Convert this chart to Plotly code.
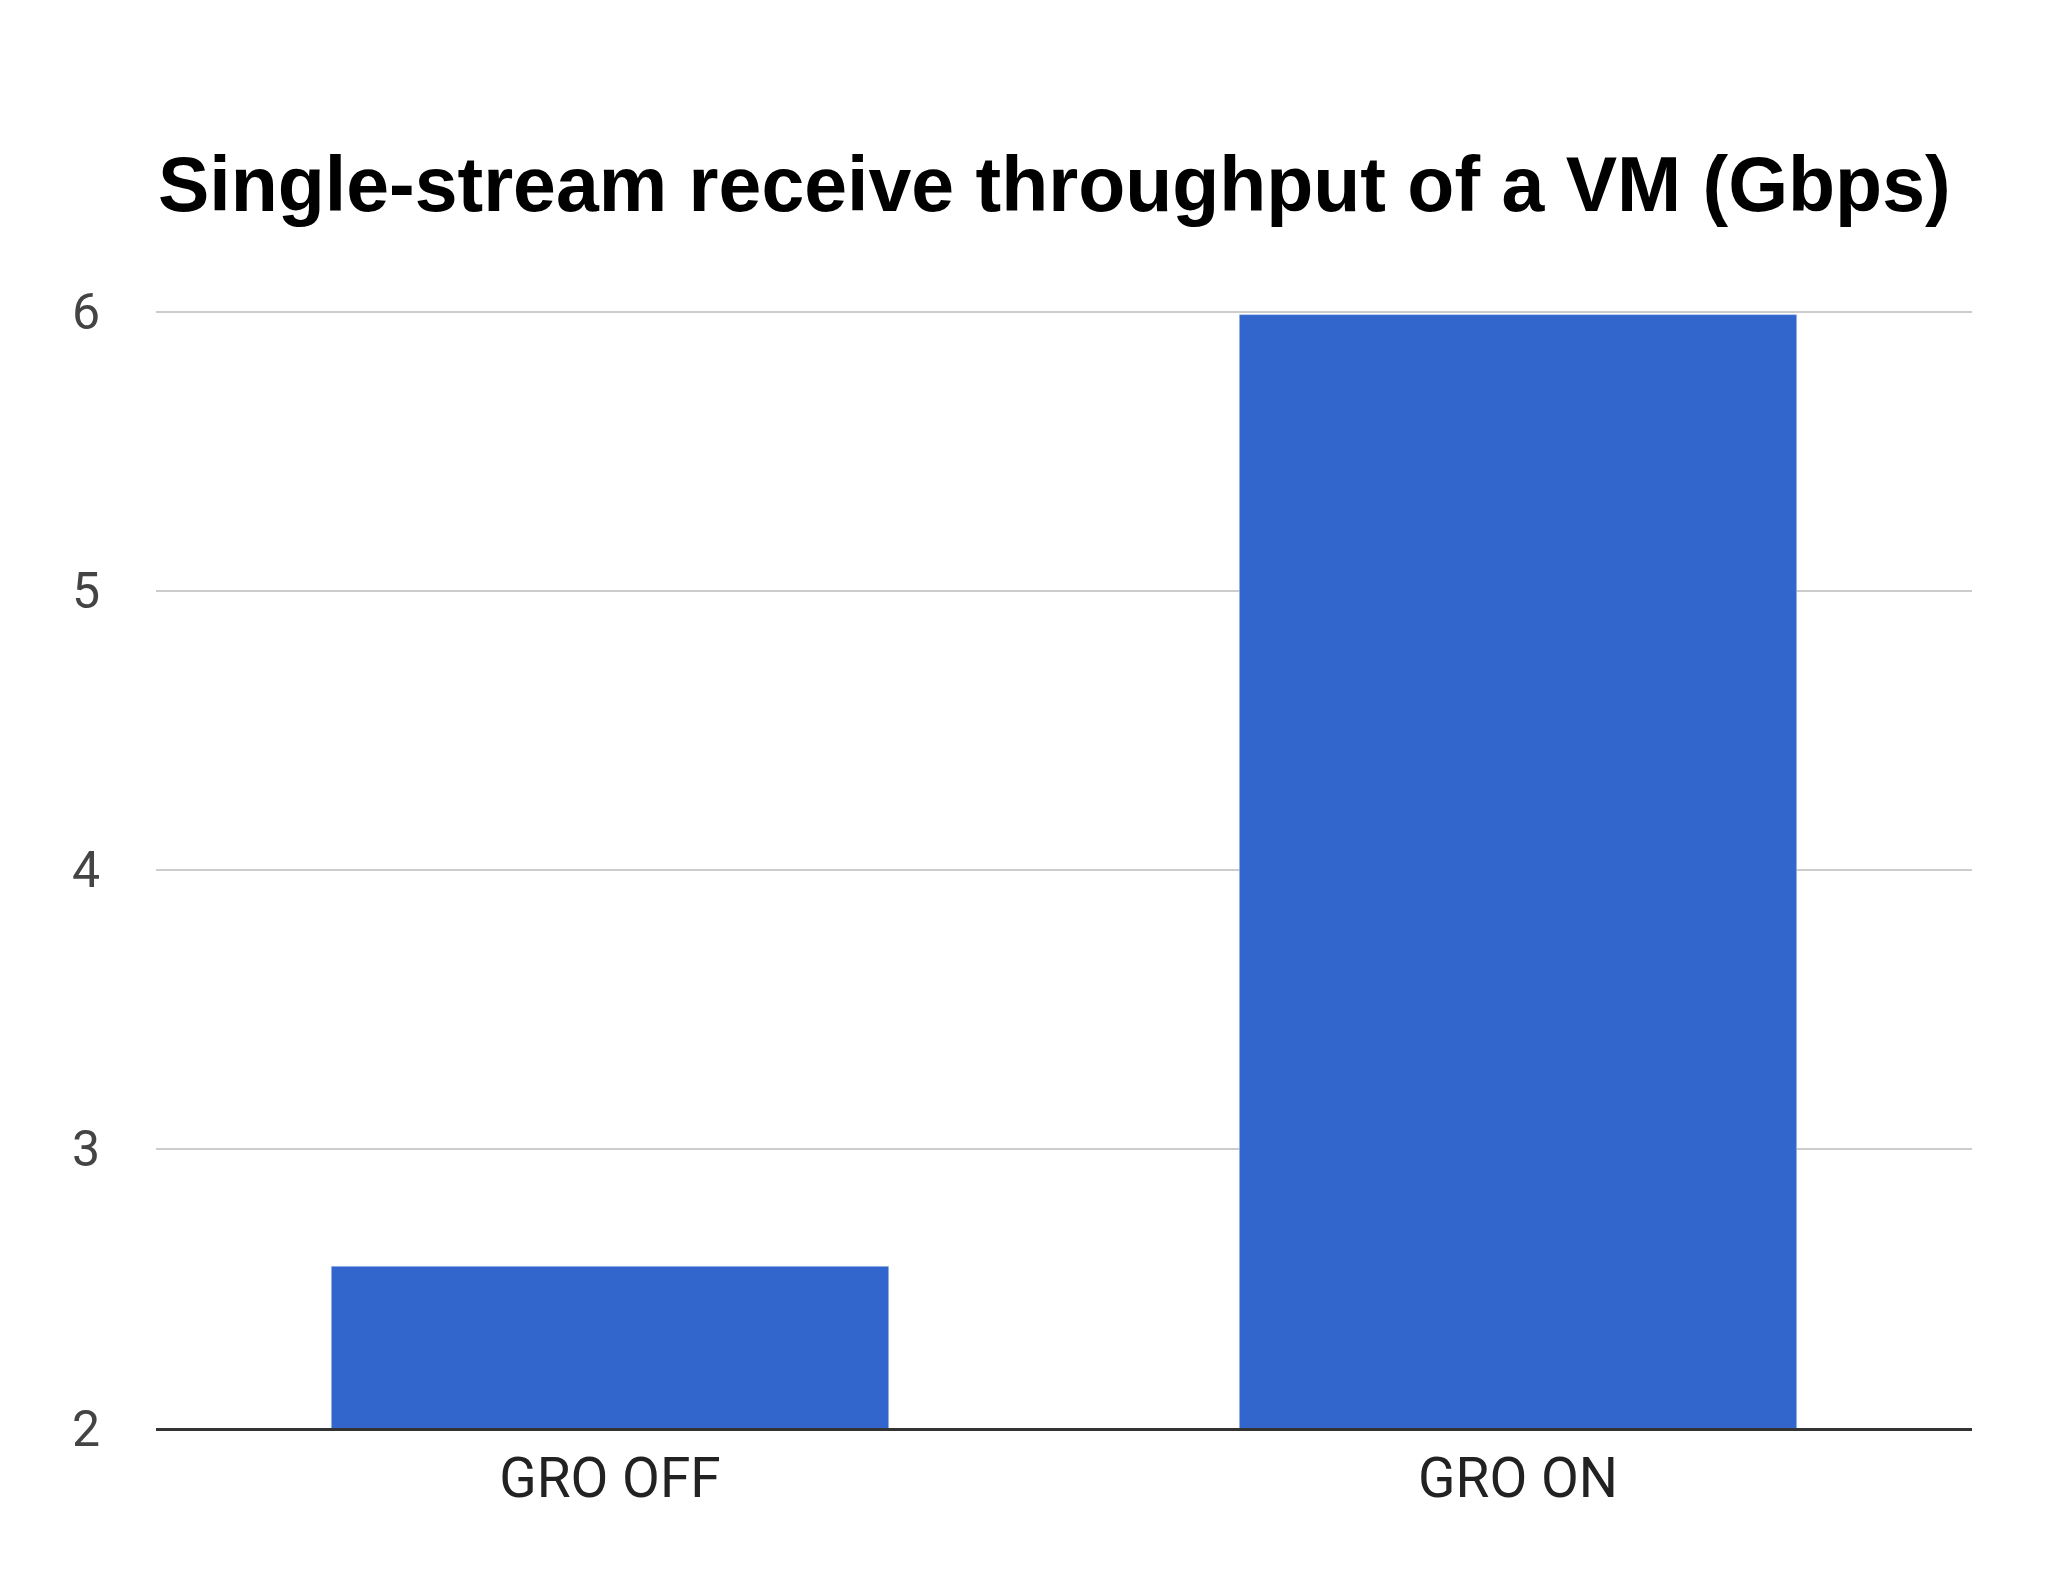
import plotly.graph_objects as go

categories = ["GRO OFF", "GRO ON"]
values = [2.58, 5.99]

fig = go.Figure(go.Bar(x=categories, y=values, marker_color="#3366cc"))
fig.update_layout(
    width=2048, height=1582,
    paper_bgcolor="white", plot_bgcolor="white",
    margin=dict(l=148, r=84, t=301, b=162),
    bargap=0.386,
    title=dict(text="<b>Single-stream receive throughput of a VM (Gbps)</b>",
               x=150/2048, xanchor="left", y=1-176/1582, yanchor="middle",
               font=dict(family="Liberation Sans, Arial", size=77, color="#000")),
    showlegend=False,
)
fig.update_yaxes(range=[2, 6.01], tickvals=[2, 3, 4, 5, 6], showgrid=True, gridcolor="#cccccc",
                 gridwidth=2, zeroline=False, ticks="", ticklabelstandoff=55,
                 tickfont=dict(family="Roboto, Liberation Sans", size=50, color="#444"))
fig.update_xaxes(showline=True, linecolor="#333", linewidth=3, ticks="",
                 tickfont=dict(family="Roboto, Liberation Sans", size=55, color="#222"))
fig.write_html("out.html")
